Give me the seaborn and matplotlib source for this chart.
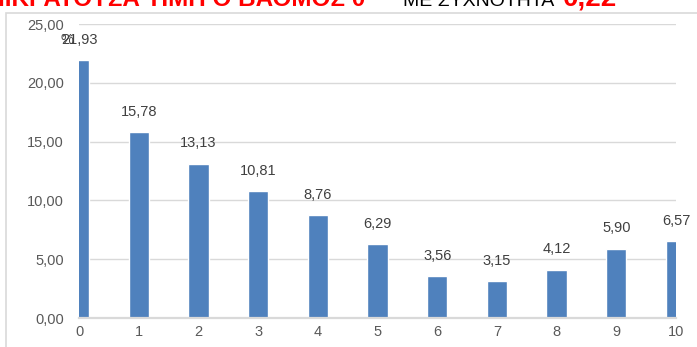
import numpy as np
import pandas as pd
import seaborn as sns
import matplotlib.pyplot as plt
from matplotlib.patches import Rectangle
from matplotlib.ticker import FuncFormatter

grades = [0, 1, 2, 3, 4, 5, 6, 7, 8, 9, 10]
freq = [21.93, 15.78, 13.13, 10.81, 8.76, 6.29, 3.56, 3.15, 4.12, 5.90, 6.57]

title_red = "ΕΠΙΚΡΑΤΟΥΣΑ ΤΙΜΗ Ο ΒΑΘΜΟΣ 0"
title_black = "ΜΕ ΣΥΧΝΟΤΗΤΑ"
title_value = "0,22"
y_title = "%"


def comma(v, pos=None):
    return "{:.2f}".format(v).replace(".", ",")


if __name__ == "__main__":
    sns.set_style("white")
    plt.rcParams["font.family"] = ["Liberation Sans", "DejaVu Sans"]
    df = pd.DataFrame({"grade": grades, "freq": freq})

    fig = plt.figure(figsize=(6.97, 3.47), dpi=100)
    ax = fig.add_axes([79 / 697, 29 / 347, 597 / 697, 294 / 347])
    sns.barplot(data=df, x="grade", y="freq", native_scale=True, width=0.34,
                color="#4f81bd", saturation=1, ax=ax, zorder=3)

    ax.set_xlim(0, 10)
    ax.set_ylim(0, 25)
    ax.set_xticks(grades)
    ax.set_yticks(np.arange(0, 26, 5))
    ax.yaxis.set_major_formatter(FuncFormatter(comma))
    ax.set_xlabel("")
    ax.set_ylabel("")
    ax.grid(axis="y", color="#d9d9d9", linewidth=1, zorder=0)
    ax.grid(axis="x", visible=False)
    for s in ["left", "top", "right"]:
        ax.spines[s].set_visible(False)
    ax.spines["bottom"].set_color("#d9d9d9")
    ax.spines["bottom"].set_linewidth(1.6)
    ax.spines["bottom"].set_zorder(4)
    ax.tick_params(axis="both", length=0, labelsize=10.5, labelcolor="#595959")
    ax.tick_params(axis="y", pad=11)
    ax.tick_params(axis="x", pad=5)

    for g, v in zip(grades, freq):
        ax.annotate(comma(v), (g, v), xytext=(0, 14.5), textcoords="offset points",
                    ha="center", va="center", fontsize=10.5, color="#404040",
                    annotation_clip=False)

    # y-axis title sitting on top of the first label
    fig.text(67 / 697, 1 - 40 / 347, y_title, ha="center", va="center",
             fontsize=10.5, color="#404040")

    # chart area border (cut off by the image edges)
    fig.patches.append(Rectangle((5.5 / 697, -0.1), 1.2, 1.1 - 12.5 / 347,
                                 transform=fig.transFigure, fill=False,
                                 edgecolor="#d9d9d9", linewidth=1.2, clip_on=False))

    # title, mostly above the image
    ty = 1 - 6 / 347
    fig.text(365 / 697, ty, title_red, ha="right", va="baseline",
             fontsize=17.5, fontweight="bold", color="#ff0000")
    fig.text(403 / 697, ty, title_black, ha="left", va="baseline",
             fontsize=14, color="#000000")
    fig.text(563 / 697, ty, title_value, ha="left", va="baseline",
             fontsize=20, fontweight="bold", color="#ff0000")

    fig.savefig("out.png", dpi=100)
